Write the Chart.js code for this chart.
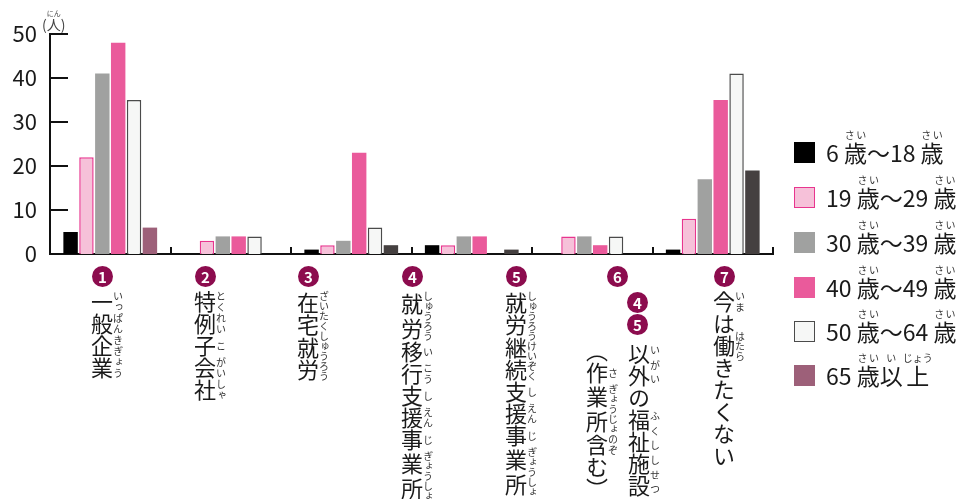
<!DOCTYPE html>
<html lang="ja">
<head>
<meta charset="utf-8">
<script src="https://cdn.jsdelivr.net/npm/chart.js@4.4.1/dist/chart.umd.min.js"></script>
<style>
  html, body { margin: 0; padding: 0; background: #fff; }
  body { width: 968px; height: 499px; position: relative; overflow: hidden;
         font-family: "Noto Sans CJK JP", sans-serif; color: #1a1a1a; }
  #chart { position: absolute; left: 0; top: 0; }
  .num { position: absolute; width: 21px; height: 21px; border-radius: 50%; background: #8c0c4e;
         color: #fff; font: bold 15px/21px "Noto Sans CJK JP", sans-serif; text-align: center; }
  .vt { position: absolute; writing-mode: vertical-rl; font-size: 22px; line-height: 22px; white-space: nowrap; }
  .vt rt { font-size: 10px; color: #333; }
  .leg { position: absolute; left: 794px; }
  .leg .box { position: absolute; left: 0; top: 0; width: 21px; height: 21px; box-sizing: border-box; }
  .leg .txt { position: absolute; left: 32px; top: -12px; font-size: 23px; line-height: 23px; white-space: nowrap; }
  .leg rt { font-size: 10px; color: #333; }
  .unit { position: absolute; left: 42px; top: 9px; font-size: 14px; line-height: 14px; color: #444; }
  .unit rt { font-size: 7px; }
</style>
</head>
<body>
<canvas id="chart" width="968" height="499"></canvas>
<div id="labels"></div>
<div id="legend"></div>
<div class="unit">(<ruby>人<rt>にん</rt></ruby>)</div>

<script>
// bar groups as drawn on the axis (6 groups)
const groupKeys = ['g1', 'g2', 'g3', 'g4', 'g5', 'g6'];

const ageNames = ['6 歳〜18 歳', '19 歳〜29 歳', '30 歳〜39 歳', '40 歳〜49 歳', '50 歳〜64 歳', '65 歳以上'];

const age6to18  = [5, 0, 1, 2, 0, 1];
const age19to29 = [22, 3, 2, 2, 4, 8];
const age30to39 = [41, 4, 3, 4, 4, 17];
const age40to49 = [48, 4, 23, 4, 2, 35];
const age50to64 = [35, 4, 6, 0, 4, 41];
const age65up   = [6, 0, 2, 1, 0, 19];

const yTicks = [0, 10, 20, 30, 40, 50];

// category labels below the axis: [text, reading]
const placeNos = ['1', '2', '3', '4', '5', '6', '7'];
const placeTexts = [
  [['一般企業', 'いっぱんきぎょう']],
  [['特例', 'とくれい'], ['子', 'こ'], ['会社', 'がいしゃ']],
  [['在宅就労', 'ざいたくしゅうろう']],
  [['就労', 'しゅうろう'], ['移', 'い'], ['行', 'こう'], ['支', 'し'], ['援', 'えん'], ['事', 'じ'], ['業所', 'ぎょうしょ']],
  [['就労継続', 'しゅうろうけいぞく'], ['支', 'し'], ['援', 'えん'], ['事', 'じ'], ['業所', 'ぎょうしょ']],
  [['以外', 'いがい'], ['の', ''], ['福祉', 'ふくし'], ['施設', 'しせつ']],
  [['今', 'いま'], ['は', ''], ['働', 'はたら'], ['きたくない', '']]
];
const place6Sub = [['（', ''], ['作', 'さ'], ['業所', 'ぎょうじょ'], ['含', 'のぞ'], ['む）', '']];
const place6Refs = ['4', '5'];

// styles
const fills = ['#000000', '#f6c1d9', '#a0a1a0', '#ea5a9b', '#f6f7f6', '#9d6079'];
const borders = [null, '#e8358e', null, null, '#4b4b4b', null];
const oldDark = '#454040';

const labelX = [102, 205, 308, 412, 516, 617, 724];
const legendTop = [142, 187, 232, 277, 321, 365];

const series = [age6to18, age19to29, age30to39, age40to49, age50to64, age65up];

const ruby = parts => parts.map(([b, r]) => r ? `<ruby>${b}<rt>${r}</rt></ruby>` : b).join('');

// axis labels
let html = '';
placeNos.forEach((no, i) => {
  html += `<div class="num" style="left:${labelX[i] - 10}px;top:${266}px">${no}</div>`;
  if (i === 5) {
    html += `<div class="num" style="left:${637 - 10}px;top:292px">${place6Refs[0]}</div>`;
    html += `<div class="num" style="left:${637 - 10}px;top:314px">${place6Refs[1]}</div>`;
    html += `<div class="vt" style="left:${639 - 11}px;top:343px">${ruby(placeTexts[i])}</div>`;
    html += `<div class="vt" style="left:${597 - 11}px;top:340px">${ruby(place6Sub)}</div>`;
  } else {
    html += `<div class="vt" style="left:${labelX[i] - 11}px;top:291px">${ruby(placeTexts[i])}</div>`;
  }
});
document.getElementById('labels').innerHTML = html;

// legend
const legendRuby = name => name
  .replace(/歳/g, '<ruby>歳<rt>さい</rt></ruby>')
  .replace('以上', '<ruby>以<rt>い</rt></ruby><ruby>上<rt>じょう</rt></ruby>');
document.getElementById('legend').innerHTML = ageNames.map((name, i) => `
  <div class="leg" style="top:${legendTop[i]}px">
    <div class="box" style="background:${fills[i]};${borders[i] ? `border:1.5px solid ${borders[i]};` : ''}"></div>
    <div class="txt">${legendRuby(name)}</div>
  </div>`).join('');

const innerTicks = {
  id: 'innerTicks',
  afterDraw(chart) {
    const { ctx, scales: { x, y } } = chart;
    ctx.save();
    ctx.strokeStyle = '#111';
    ctx.lineWidth = 2;
    ctx.beginPath();
    yTicks.forEach(v => {
      if (v === 0) return;
      const py = Math.round(y.getPixelForValue(v));
      ctx.moveTo(x.left, py);
      ctx.lineTo(x.left + 18, py);
    });
    const n = groupKeys.length;
    for (let i = 1; i <= n; i++) {
      const px = Math.round(x.left + i * x.width / n);
      ctx.moveTo(px, y.bottom);
      ctx.lineTo(px, y.bottom - 7);
    }
    ctx.stroke();
    ctx.restore();
  }
};

new Chart(document.getElementById('chart'), {
  type: 'bar',
  data: {
    labels: groupKeys,
    datasets: series.map((vals, i) => ({
      label: ageNames[i],
      data: vals,
      backgroundColor: i === 5 ? vals.map((v, j) => j === 0 ? fills[5] : oldDark) : fills[i],
      borderColor: borders[i] || fills[i],
      borderWidth: c => (borders[i] && c.raw) ? 1.5 : 0,
      borderSkipped: 'start',
      categoryPercentage: 0.79,
      barPercentage: 0.91
    }))
  },
  options: {
    responsive: false,
    animation: false,
    devicePixelRatio: 1,
    layout: { padding: { top: 34, right: 195, bottom: 0, left: 0 } },
    plugins: { legend: { display: false }, tooltip: { enabled: false } },
    scales: {
      x: {
        grid: { display: false, drawTicks: false },
        border: { color: '#111', width: 2 },
        ticks: { display: false },
        afterFit: s => { s.height = 245; }
      },
      y: {
        min: 0, max: 50,
        grid: { display: false, drawTicks: false },
        border: { color: '#111', width: 2 },
        afterBuildTicks: s => { s.ticks = yTicks.map(v => ({ value: v })); },
        ticks: {
          padding: 13, color: '#1a1a1a',
          font: { family: '"Noto Sans CJK JP", sans-serif', size: 22 }
        },
        afterFit: s => { s.width = 50; }
      }
    }
  },
  plugins: [innerTicks]
});
</script>
</body>
</html>
